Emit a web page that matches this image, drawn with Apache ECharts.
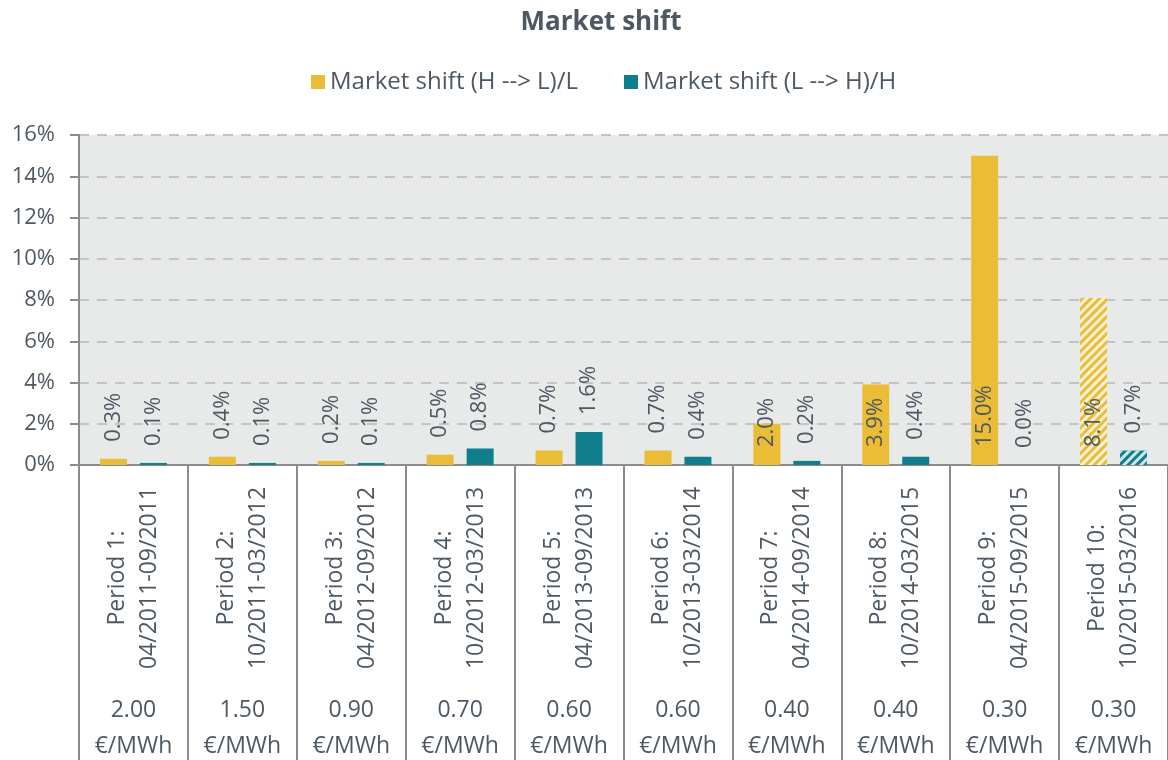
<!DOCTYPE html>
<html>
<head>
<meta charset="utf-8">
<title>Market shift</title>
<script src="https://cdn.jsdelivr.net/npm/echarts@6/dist/echarts.min.js"></script>
<style>
  html, body { margin: 0; padding: 0; background: #fff; }
  #market-shift-dom { width: 1168px; height: 760px; }
</style>
</head>
<body>
<div id="market-shift-dom"></div>
<script>
// periods and network tariff difference per period
const periods = [
    'Period 1:\n04/2011-09/2011',
    'Period 2:\n10/2011-03/2012',
    'Period 3:\n04/2012-09/2012',
    'Period 4:\n10/2012-03/2013',
    'Period 5:\n04/2013-09/2013',
    'Period 6:\n10/2013-03/2014',
    'Period 7:\n04/2014-09/2014',
    'Period 8:\n10/2014-03/2015',
    'Period 9:\n04/2015-09/2015',
    'Period 10:\n10/2015-03/2016'
];
const prices = ['2.00', '1.50', '0.90', '0.70', '0.60', '0.60', '0.40', '0.40', '0.30', '0.30'];
// market shift in %
const shiftHtoL = [0.3, 0.4, 0.2, 0.5, 0.7, 0.7, 2.0, 3.9, 15.0, 8.1];
const shiftLtoH = [0.1, 0.1, 0.1, 0.8, 1.6, 0.4, 0.2, 0.4, 0.0, 0.7];
// last period is an estimate -> hatched
const estimated = [false, false, false, false, false, false, false, false, false, true];
const yTicks = [0, 2, 4, 6, 8, 10, 12, 14, 16];

const textColor = '#4d5862';
const lineColor = '#8c8c8c';
const font = "'Open Sans', 'Noto Sans', sans-serif";

function buildData(values) {
    return values.map((v, i) => {
        let item = {
            value: v,
            label: v < 2
                ? { position: 'top', distance: 17 }
                : { position: 'insideBottom', distance: 18 }
        };
        if (estimated[i]) {
            item.itemStyle = {
                decal: {
                    symbol: 'rect',
                    symbolSize: 1,
                    dashArrayX: [1, 0],
                    dashArrayY: [3, 3],
                    rotation: -Math.PI / 4,
                    color: 'rgba(255,255,255,0.8)'
                }
            };
        }
        return item;
    });
}

const barLabel = {
    show: true,
    rotate: 90,
    align: 'left',
    verticalAlign: 'middle',
    color: textColor,
    fontFamily: font,
    fontSize: 22,
    formatter: p => p.value.toFixed(1) + '%'
};

let chart = echarts.init(document.getElementById('market-shift-dom'));
let option = {
    animation: false,
    title: {
        text: 'Market shift',
        left: 596,
        textAlign: 'center',
        top: 5,
        textStyle: { color: textColor, fontFamily: font, fontSize: 26, fontWeight: 'bold' }
    },
    legend: {
        top: 65,
        left: 306,
        itemWidth: 14,
        itemHeight: 14,
        itemGap: 46,
        icon: 'rect',
        textStyle: { color: textColor, fontFamily: font, fontSize: 24 },
        data: ['Market shift (H --> L)/L', 'Market shift (L --> H)/H']
    },
    grid: {
        left: 79,
        right: 0,
        top: 135,
        bottom: 295,
        containLabel: false,
        outerBoundsMode: 'none',
        show: true,
        backgroundColor: '#e8e9e9',
        borderWidth: 0
    },
    xAxis: [
        {
            type: 'category',
            data: periods,
            axisLine: { show: true, lineStyle: { color: lineColor, width: 2 } },
            axisTick: { show: true, length: 300, lineStyle: { color: lineColor, width: 2 } },
            axisLabel: {
                rotate: 90,
                align: 'center',
                verticalAlign: 'middle',
                margin: 113,
                lineHeight: 32,
                color: textColor,
                fontFamily: font,
                fontSize: 23,
                interval: 0
            }
        },
        {
            type: 'category',
            position: 'bottom',
            data: prices,
            axisLine: { show: false },
            axisTick: { show: false },
            axisLabel: {
                margin: 227,
                lineHeight: 36,
                color: textColor,
                fontFamily: font,
                fontSize: 23,
                interval: 0,
                formatter: v => v + '\n€/MWh'
            }
        }
    ],
    yAxis: {
        type: 'value',
        min: yTicks[0],
        max: yTicks[yTicks.length - 1],
        interval: 2,
        axisLine: { show: true, lineStyle: { color: lineColor, width: 2 } },
        axisTick: { show: true, length: 9, lineStyle: { color: lineColor, width: 2 } },
        axisLabel: {
            margin: 24,
            color: textColor,
            fontFamily: font,
            fontSize: 22,
            formatter: '{value}%'
        },
        splitLine: { show: true, lineStyle: { color: '#c4c4c4', width: 2, type: [10, 8] } }
    },
    series: [
        {
            name: 'Market shift (H --> L)/L',
            type: 'bar',
            barWidth: 27,
            barGap: '48%',
            itemStyle: { color: '#ebbc35' },
            label: barLabel,
            data: buildData(shiftHtoL)
        },
        {
            name: 'Market shift (L --> H)/H',
            type: 'bar',
            barWidth: 27,
            barGap: '48%',
            itemStyle: { color: '#0f7f8d' },
            label: barLabel,
            data: buildData(shiftLtoH)
        }
    ]
};
chart.setOption(option);
</script>
</body>
</html>
